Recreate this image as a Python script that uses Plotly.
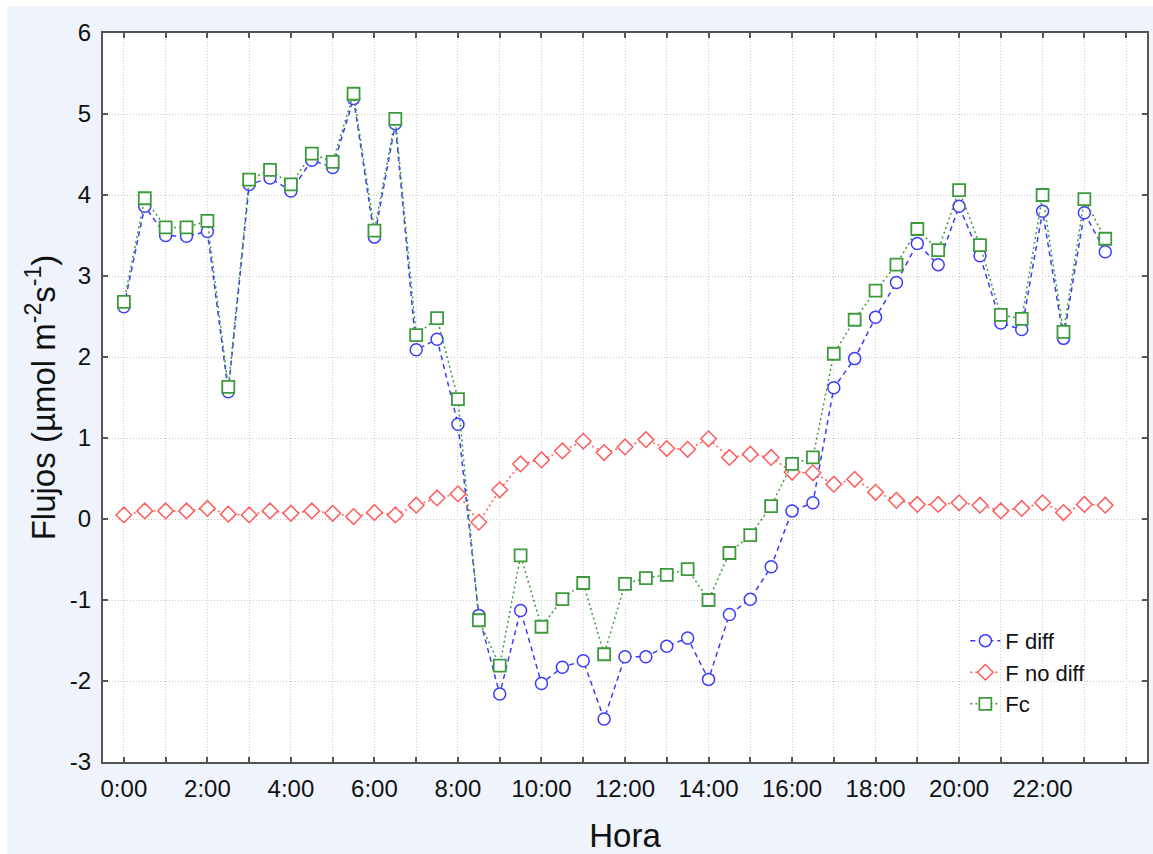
import plotly.graph_objects as go

# Half-hourly time stamps (hours since midnight)
horas = [0, 0.5, 1, 1.5, 2, 2.5, 3, 3.5, 4, 4.5, 5, 5.5, 6, 6.5, 7, 7.5,
         8, 8.5, 9, 9.5, 10, 10.5, 11, 11.5, 12, 12.5, 13, 13.5, 14, 14.5, 15, 15.5,
         16, 16.5, 17, 17.5, 18, 18.5, 19, 19.5, 20, 20.5, 21, 21.5, 22, 22.5, 23, 23.5]

f_diff = [2.62, 3.86, 3.50, 3.49, 3.55, 1.57, 4.13, 4.21, 4.05, 4.43, 4.34, 5.19,
          3.48, 4.88, 2.09, 2.22, 1.17, -1.19, -2.16, -1.13, -2.03, -1.83, -1.75, -2.47,
          -1.70, -1.70, -1.57, -1.47, -1.98, -1.18, -0.99, -0.59, 0.10, 0.20, 1.62, 1.98,
          2.49, 2.92, 3.40, 3.14, 3.86, 3.25, 2.42, 2.34, 3.80, 2.23, 3.78, 3.30]

f_no_diff = [0.05, 0.10, 0.10, 0.10, 0.13, 0.06, 0.05, 0.10, 0.07, 0.10, 0.07, 0.03,
             0.08, 0.05, 0.17, 0.26, 0.31, -0.04, 0.36, 0.68, 0.73, 0.84, 0.96, 0.82,
             0.89, 0.98, 0.87, 0.86, 0.99, 0.76, 0.80, 0.76, 0.58, 0.57, 0.43, 0.49,
             0.33, 0.23, 0.18, 0.18, 0.20, 0.17, 0.10, 0.13, 0.20, 0.08, 0.18, 0.17]

fc = [2.68, 3.96, 3.60, 3.60, 3.68, 1.63, 4.19, 4.31, 4.13, 4.51, 4.41, 5.25,
      3.56, 4.94, 2.27, 2.48, 1.48, -1.25, -1.81, -0.45, -1.33, -0.99, -0.79, -1.67,
      -0.80, -0.73, -0.69, -0.62, -1.00, -0.42, -0.20, 0.16, 0.68, 0.76, 2.04, 2.46,
      2.82, 3.14, 3.58, 3.32, 4.06, 3.38, 2.52, 2.47, 4.00, 2.31, 3.95, 3.46]

# Labelled ticks every two hours; unlabelled minor ticks fill in each hour
tick_horas = [0, 2, 4, 6, 8, 10, 12, 14, 16, 18, 20, 22]
tick_textos = ["0:00", "2:00", "4:00", "6:00", "8:00", "10:00",
               "12:00", "14:00", "16:00", "18:00", "20:00", "22:00"]

# Flux axis ticks (plain hyphen for negatives)
tick_flujos = [-3, -2, -1, 0, 1, 2, 3, 4, 5, 6]
tick_flujos_textos = ["-3", "-2", "-1", "0", "1", "2", "3", "4", "5", "6"]

AZUL = "#3b3bff"
ROJO = "#ff5c5c"
VERDE = "#3d9a3d"
FONDO = "#eef3fc"
EJE = "#555555"
REJILLA = "#c9c9c9"
FUENTE = "Liberation Sans, Arial, sans-serif"

fig = go.Figure()

fig.add_trace(go.Scatter(
    x=horas, y=f_diff, name="F diff", mode="lines+markers",
    line=dict(color=AZUL, width=1.5, dash="5px,4px"),
    marker=dict(symbol="circle", size=12, color="white",
                line=dict(color=AZUL, width=1.5)),
))
fig.add_trace(go.Scatter(
    x=horas, y=f_no_diff, name="F no diff", mode="lines+markers",
    line=dict(color=ROJO, width=1.5, dash="2px,3px"),
    marker=dict(symbol="diamond", size=12, color="white",
                line=dict(color=ROJO, width=1.5)),
))
fig.add_trace(go.Scatter(
    x=horas, y=fc, name="Fc", mode="lines+markers",
    line=dict(color=VERDE, width=1.5, dash="2px,3px"),
    marker=dict(symbol="square", size=12, color="white",
                line=dict(color=VERDE, width=1.8)),
))

eje_comun = dict(
    showline=True, linecolor=EJE, linewidth=2, mirror="ticks",
    ticks="inside", ticklen=5, tickwidth=1.5, tickcolor=EJE,
    showgrid=True, gridcolor=REJILLA, gridwidth=1, griddash="1px,2px",
    zeroline=False,
    tickfont=dict(family=FUENTE, size=24, color="#111111"),
)

fig.update_xaxes(
    range=[-0.5, 24.5], tickmode="array", tickvals=tick_horas, ticktext=tick_textos,
    minor=dict(dtick=1, tick0=0, ticks="inside", ticklen=5, tickwidth=1.5, tickcolor=EJE,
               showgrid=True, gridcolor=REJILLA, gridwidth=1, griddash="1px,2px"),
    ticklabelstandoff=4,
    title=dict(text="Hora", font=dict(family=FUENTE, size=33, color="#111111"), standoff=24),
    **eje_comun,
)
fig.update_yaxes(
    range=[-3, 6], tickmode="array", tickvals=tick_flujos, ticktext=tick_flujos_textos,
    ticklabelstandoff=5,
    title=dict(text="Flujos (µmol m<sup>-2</sup>s<sup>-1</sup>)",
               font=dict(family=FUENTE, size=33, color="#111111"), standoff=4),
    **eje_comun,
)

fig.update_layout(
    width=1153, height=854,
    margin=dict(l=103, r=4, t=33, b=92),
    paper_bgcolor=FONDO, plot_bgcolor="white",
    showlegend=True,
    legend=dict(x=0.826, y=0.195, xanchor="left", yanchor="top",
                bgcolor="rgba(0,0,0,0)", borderwidth=0,
                font=dict(family=FUENTE, size=22, color="#111111"),
                itemwidth=30, tracegroupgap=0),
    shapes=[
        # thin white frame along the top and left edges of the page
        dict(type="rect", xref="paper", yref="paper", x0=-0.12, x1=-0.0918,
             y0=-0.2, y1=1.1, fillcolor="white", line=dict(width=0), layer="below"),
        dict(type="rect", xref="paper", yref="paper", x0=-0.12, x1=1.1,
             y0=1.0366, y1=1.1, fillcolor="white", line=dict(width=0), layer="below"),
    ],
)

fig.write_html("out.html")
